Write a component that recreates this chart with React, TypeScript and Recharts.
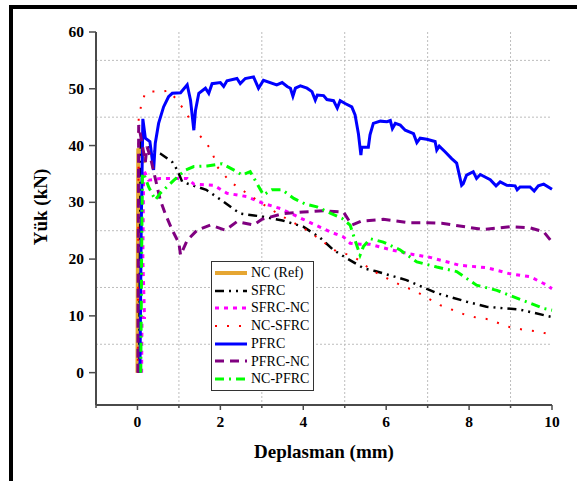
import React from "react";
import {
  LineChart,
  Line,
  XAxis,
  YAxis,
  CartesianGrid,
  Label,
} from "recharts";

// load–displacement curves, [deplasman (mm), yük (kN)]
const NC_REF: [number, number][] = [
  [0, 0], [0.01, 20], [0.02, 39.5], [0.19, 37],
];

const SFRC: [number, number][] = [
  [0.04, 0], [0.06, 20], [0.08, 40.5], [0.3, 39.5], [0.55, 38.6], [0.84, 37.1],
  [0.96, 35.7], [1.08, 33.6], [1.66, 32.2], [2.08, 30.1], [2.36, 28.6],
  [2.5, 28.0], [3.0, 27.5], [3.5, 26.8], [4.0, 25.7], [4.4, 23.8], [4.73, 21.6],
  [4.97, 20.5], [5.45, 18.4], [5.73, 17.9], [6.49, 16.3], [7.22, 14.0],
  [7.94, 12.5], [8.42, 11.6], [9.23, 11.1], [10.0, 9.8],
];

const SFRC_NC: [number, number][] = [
  [0.1, 0], [0.11, 9.7], [0.17, 9.7], [0.13, 20], [0.15, 35.7], [0.27, 33.9],
  [0.55, 34.2], [0.88, 34.2], [1.2, 34.2], [1.36, 33.2], [1.84, 33.0],
  [2.16, 31.6], [2.64, 31.0], [3.04, 29.8], [3.45, 28.9], [4.0, 27.0],
  [4.65, 24.8], [4.97, 23.9], [5.13, 22.8], [5.37, 22.6], [5.61, 22.6],
  [6.14, 21.6], [6.58, 20.9], [7.06, 20.3], [7.78, 18.9], [8.42, 18.5],
  [8.99, 17.4], [9.47, 16.9], [9.8, 15.7], [10.0, 14.8],
];

const NC_SFRC: [number, number][] = [
  [0.01, 0], [0.02, 25], [0.03, 44.8], [0.09, 47.1], [0.19, 49.3], [0.3, 49.5],
  [0.6, 49.5], [0.75, 49.7], [0.96, 48.0], [1.12, 46.3], [1.28, 44.5],
  [1.44, 42.2], [1.64, 40.7], [1.8, 38.9], [1.92, 36.3], [2.24, 33.6],
  [2.48, 32.4], [3.0, 29.8], [3.5, 27.5], [4.0, 25.5], [4.4, 23.5],
  [4.69, 21.9], [4.81, 21.3], [5.13, 20.7], [5.37, 19.7], [5.61, 18.2],
  [6.1, 16.3], [6.3, 15.6], [6.74, 14.2], [7.3, 11.9], [7.62, 11.0],
  [7.94, 10.1], [8.18, 9.7], [8.47, 9.4], [8.72, 8.7], [8.99, 8.0],
  [9.35, 7.5], [9.63, 7.3], [9.92, 6.8], [10.0, 6.6],
];

const PFRC: [number, number][] = [
  [0.06, 0], [0.09, 25], [0.13, 44.7], [0.19, 41.3], [0.3, 40.7], [0.39, 35.7],
  [0.43, 40.4], [0.51, 43.9], [0.63, 46.8], [0.75, 48.6], [0.84, 49.2],
  [1.04, 49.3], [1.2, 50.7], [1.28, 48.0], [1.36, 42.7], [1.4, 46.2],
  [1.48, 49.2], [1.64, 50.1], [1.72, 49.2], [1.8, 50.9], [2.0, 51.1],
  [2.08, 50.4], [2.16, 51.4], [2.4, 51.8], [2.48, 50.9], [2.6, 51.8],
  [2.8, 52.1], [2.92, 50.1], [3.04, 51.5], [3.36, 50.7], [3.49, 51.1],
  [3.61, 50.4], [3.69, 50.1], [3.75, 48.7], [3.81, 50.1], [3.93, 50.5],
  [4.09, 50.1], [4.21, 49.5], [4.29, 48.0], [4.34, 48.9], [4.49, 48.8],
  [4.57, 48.1], [4.73, 47.9], [4.82, 46.6], [4.89, 47.9], [5.01, 47.4],
  [5.17, 46.8], [5.25, 45.4], [5.33, 42.1], [5.39, 38.3], [5.41, 39.7],
  [5.57, 39.7], [5.61, 41.9], [5.69, 43.9], [5.86, 44.3], [6.02, 44.2],
  [6.1, 44.4], [6.15, 43.0], [6.22, 43.9], [6.34, 43.6], [6.46, 42.7],
  [6.66, 42.1], [6.74, 40.5], [6.82, 41.3], [6.98, 41.1], [7.18, 40.7],
  [7.22, 39.2], [7.28, 39.9], [7.42, 38.9], [7.58, 37.7], [7.7, 36.9],
  [7.82, 33.0], [7.86, 33.3], [7.94, 34.8], [8.1, 35.4], [8.18, 34.2],
  [8.27, 34.9], [8.51, 34.0], [8.65, 32.9], [8.75, 33.6], [8.91, 33.0],
  [9.11, 32.9], [9.16, 32.2], [9.23, 32.7], [9.47, 32.7], [9.57, 32.0],
  [9.67, 32.9], [9.8, 33.2], [10.0, 32.3],
];

const PFRC_NC: [number, number][] = [
  [0.01, 0], [0.02, 25], [0.03, 43.6], [0.11, 40.4], [0.19, 37.1],
  [0.23, 39.8], [0.31, 38.0], [0.55, 30.4], [0.67, 28.0], [0.84, 25.1],
  [1.0, 22.8], [1.04, 20.7], [1.2, 23.3], [1.44, 25.1], [1.76, 26.0],
  [2.12, 25.1], [2.4, 26.6], [2.8, 26.0], [3.0, 27.0], [3.5, 28.0],
  [4.0, 28.3], [4.5, 28.5], [4.97, 28.3], [5.17, 26.0], [5.41, 26.7],
  [5.93, 27.0], [6.58, 26.4], [6.98, 26.4], [7.34, 26.3], [8.34, 25.2],
  [8.99, 25.7], [9.47, 25.5], [9.8, 24.8], [10.0, 23.0],
];

const NC_PFRC: [number, number][] = [
  [0.08, 0], [0.1, 20], [0.12, 35.1], [0.15, 35.1], [0.27, 32.7],
  [0.43, 30.4], [0.55, 31.6], [0.88, 33.9], [1.16, 35.7], [1.36, 36.3],
  [1.68, 36.4], [2.04, 36.8], [2.4, 35.4], [2.52, 34.8], [2.72, 35.4],
  [3.04, 31.3], [3.24, 32.2], [3.49, 32.2], [3.77, 30.7], [4.05, 29.7],
  [4.33, 29.2], [4.65, 28.1], [4.93, 27.2], [5.13, 26.0], [5.25, 23.3],
  [5.37, 20.7], [5.45, 22.2], [5.61, 23.6], [5.93, 23.0], [6.34, 21.6],
  [6.74, 19.5], [7.22, 18.6], [7.7, 17.8], [8.18, 15.4], [8.67, 14.5],
  [9.23, 12.9], [9.8, 11.3], [10.0, 11.0],
];

const X_TICKS = [-1, 0, 1, 2, 3, 4, 5, 6, 7, 8, 9, 10];
const Y_TICKS = [0, 10, 20, 30, 40, 50, 60];
const X_GRID = [1, 3, 5, 7, 9];
const Y_GRID = [5, 15, 25, 35, 45, 55];

const SERIES = [
  { name: "NC (Ref)", data: NC_REF, color: "#E6A632", width: 4, dash: undefined },
  { name: "SFRC", data: SFRC, color: "#000000", width: 2.5, dash: "9 5 2 5 2 5" },
  { name: "SFRC-NC", data: SFRC_NC, color: "#FF00FF", width: 3, dash: "4 5" },
  { name: "NC-SFRC", data: NC_SFRC, color: "#FF0000", width: 2, dash: "2 10" },
  { name: "PFRC", data: PFRC, color: "#0000FF", width: 3, dash: undefined },
  { name: "PFRC-NC", data: PFRC_NC, color: "#800080", width: 3, dash: "9 6" },
  { name: "NC-PFRC", data: NC_PFRC, color: "#00FF00", width: 3, dash: "9 5 2 5" },
];

const FONT = "'Liberation Serif', 'Times New Roman', serif";
const AXIS = "#4a4a4a";

const XTick = (props: any) => {
  const { x, y, payload } = props;
  const major = payload.value % 2 === 0;
  return (
    <g>
      <line x1={x} y1={y} x2={x} y2={y + (major ? 5 : 3)} stroke={AXIS} strokeWidth={1.5} />
      {major && (
        <text x={x} y={y + 22} textAnchor="middle" fontFamily={FONT} fontWeight="bold" fontSize={15.5} fill="#000">
          {payload.value}
        </text>
      )}
    </g>
  );
};

const YTick = (props: any) => {
  const { x, y, payload } = props;
  return (
    <g>
      <line x1={x - 7} y1={y} x2={x} y2={y} stroke={AXIS} strokeWidth={1.5} />
      <text x={x - 12} y={y + 5} textAnchor="end" fontFamily={FONT} fontWeight="bold" fontSize={15.5} fill="#000">
        {payload.value}
      </text>
    </g>
  );
};

const LegendBox = () => (
  <div
    style={{
      position: "absolute",
      left: 211,
      top: 261,
      border: "1px solid #333",
      background: "#fff",
      padding: "2px 4px 2px 2px",
      fontFamily: FONT,
      fontSize: 14,
      lineHeight: "17.7px",
    }}
  >
    {SERIES.map((s) => (
      <div key={s.name} style={{ display: "flex", alignItems: "center", whiteSpace: "nowrap" }}>
        <svg width={34} height={10} style={{ marginRight: 3 }}>
          <line x1={1} y1={5} x2={33} y2={5} stroke={s.color} strokeWidth={s.width} strokeDasharray={s.dash} />
        </svg>
        <span>{s.name}</span>
      </div>
    ))}
  </div>
);

export default function App() {
  return (
    <div style={{ position: "absolute", left: 0, top: 0, width: 577, height: 481, background: "#fff" }}>
      <div
        style={{
          position: "absolute",
          left: 9,
          top: 5,
          right: 0,
          bottom: 0,
          borderLeft: "4.5px solid #000",
          borderTop: "4px solid #000",
        }}
      />
      <div style={{ position: "absolute", left: 0, top: 0 }}>
        <LineChart width={577} height={481} margin={{ top: 32, right: 25, left: 0, bottom: 16 }}>
          <CartesianGrid
            horizontalValues={Y_GRID}
            verticalValues={X_GRID}
            stroke="#bdbdbd"
            strokeDasharray="2 2"
          />
          <XAxis
            type="number"
            dataKey="x"
            domain={[-1, 10]}
            ticks={X_TICKS}
            interval={0}
            tick={<XTick />}
            tickLine={false}
            tickSize={0}
            tickMargin={0}
            height={60}
            axisLine={{ stroke: AXIS, strokeWidth: 2 }}
          >
            <Label
              content={() => (
                <text x={324} y={458} textAnchor="middle" fontFamily={FONT} fontWeight="bold" fontSize={19} fill="#000">
                  Deplasman (mm)
                </text>
              )}
            />
          </XAxis>
          <XAxis xAxisId="top" orientation="top" type="number" domain={[-1, 10]} tick={false} tickLine={false} height={0} axisLine={{ stroke: AXIS, strokeWidth: 2 }} />
          <YAxis
            type="number"
            dataKey="y"
            domain={[-5.7, 60]}
            ticks={Y_TICKS}
            interval={0}
            tick={<YTick />}
            tickLine={false}
            tickSize={0}
            tickMargin={0}
            width={96}
            axisLine={{ stroke: AXIS, strokeWidth: 2 }}
          >
            <Label
              content={() => (
                <text
                  x={47}
                  y={207}
                  transform="rotate(-90 47 207)"
                  textAnchor="middle"
                  fontFamily={FONT}
                  fontWeight="bold"
                  fontSize={19}
                  fill="#000"
                >
                  Yük (kN)
                </text>
              )}
            />
          </YAxis>
          <YAxis yAxisId="right" orientation="right" type="number" domain={[-5.7, 60]} tick={false} tickLine={false} width={0} axisLine={{ stroke: AXIS, strokeWidth: 2.5 }} />
          {SERIES.map((s) => (
            <Line
              key={s.name}
              name={s.name}
              data={s.data.map(([x, y]) => ({ x, y }))}
              dataKey="y"
              type="linear"
              stroke={s.color}
              strokeWidth={s.width}
              strokeDasharray={s.dash}
              dot={false}
              activeDot={false}
              isAnimationActive={false}
            />
          ))}
        </LineChart>
      </div>
      <LegendBox />
    </div>
  );
}
